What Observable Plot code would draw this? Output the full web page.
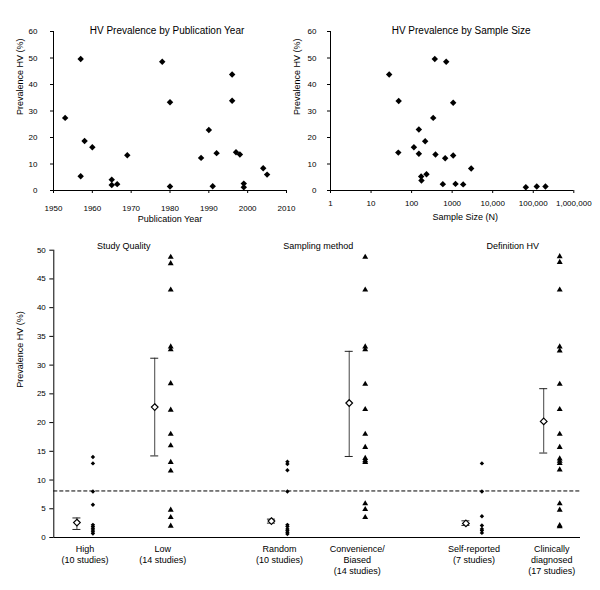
<!DOCTYPE html>
<html>
<head>
<meta charset="utf-8">
<script src="https://cdn.jsdelivr.net/npm/d3@7"></script>
<script src="https://cdn.jsdelivr.net/npm/@observablehq/plot@0.6"></script>
<style>
  body { margin: 0; background: #fff; }
  #wrap { position: relative; width: 600px; height: 590px; overflow: hidden; color: #000;
          font-family: "Liberation Sans", Arial, Helvetica, sans-serif; }
  #wrap > div { position: absolute; }
  #a { left: 0; top: 0; }
  #b { left: 280px; top: 0; }
  #c { left: 0; top: 230px; }
</style>
</head>
<body>
<div id="wrap"><div id="a"></div><div id="b"></div><div id="c"></div></div>
<script>
// ---------- Top left: prevalence by publication year ----------
const titleYear = "HV Prevalence by Publication Year";
const pubYears    = [1953, 1957, 1957, 1958, 1960, 1965, 1965, 1966.4, 1969, 1978, 1980, 1980, 1988, 1990, 1991, 1992, 1996, 1996, 1997, 1998, 1999, 1999, 2004, 2005];
const prevByYear  = [27.4, 49.6, 5.4, 18.7, 16.3, 4.1, 2.1, 2.4, 13.3, 48.6, 33.3, 1.5, 12.3, 22.8, 1.6, 14.1, 43.8, 33.9, 14.4, 13.6, 2.6, 1.2, 8.4, 6.0];
const yearTicks   = [1950, 1960, 1970, 1980, 1990, 2000, 2010];
const prevTicksTop = [0, 10, 20, 30, 40, 50, 60];

// ---------- Top right: prevalence by sample size ----------
const titleSize = "HV Prevalence by Sample Size";
const sampleSizes = [28, 48, 47, 114, 151, 151, 172, 175, 216, 233, 341, 373, 388, 589, 713, 673, 1060, 1060, 1210, 1870, 2946, 65600, 122000, 200000];
const prevBySize  = [43.8, 33.8, 14.3, 16.3, 23.0, 13.9, 5.3, 3.8, 18.6, 6.1, 27.4, 49.6, 13.6, 2.4, 48.6, 12.2, 33.1, 13.2, 2.5, 2.3, 8.3, 1.2, 1.5, 1.5];
const sizeTicks = [1, 10, 100, 1000, 10000, 100000, 1000000];
const sizeTickLabels = ["1", "10", "100", "1000", "10,000", "100,000", "1,000,000"];

// ---------- Bottom: subgroups ----------
const groups = ["Study Quality", "Sampling method", "Definition HV"];
const categories = ["High", "Low", "Random", "Convenience/Biased", "Self-reported", "Clinically diagnosed"];
const categoryLabels = ["High\n(10 studies)", "Low\n(14 studies)", "Random\n(10 studies)",
                        "Convenience/\nBiased\n(14 studies)", "Self-reported\n(7 studies)",
                        "Clinically\ndiagnosed\n(17 studies)"];
const categoryGroup = [0, 0, 1, 1, 2, 2];
const meanValues = [2.6, 22.7, 2.85, 23.4, 2.45, 20.2];
const ciLow      = [1.4, 14.2, 2.5, 14.1, 2.1, 14.7];
const ciHigh     = [3.4, 31.2, 3.2, 32.4, 2.9, 25.9];
const highValues        = [14.0, 12.9, 8.0, 5.7, 2.2, 1.9, 1.6, 1.3, 1.0, 0.7];
const lowValues         = [48.8, 47.7, 43.1, 33.2, 32.7, 26.8, 22.2, 18.0, 16.0, 13.1, 11.6, 4.8, 3.5, 2.0];
const randomValues      = [13.2, 12.8, 11.7, 8.0, 2.2, 1.9, 1.5, 1.2, 0.9, 0.6];
const convenienceValues = [48.8, 43.1, 33.2, 32.7, 26.7, 22.3, 18.0, 15.7, 13.8, 13.4, 13.1, 5.9, 4.9, 3.5];
const selfValues        = [12.9, 8.0, 3.7, 2.1, 1.5, 1.2, 0.8];
const clinicalValues    = [48.9, 47.9, 43.1, 33.2, 32.5, 26.7, 22.3, 18.0, 15.7, 13.7, 13.3, 12.9, 11.8, 5.9, 4.8, 2.1, 1.9];
const overallPrevalence = 8.1;
const prevTicksBottom = [0, 5, 10, 15, 20, 25, 30, 35, 40, 45, 50];
const yLabel = "Prevalence HV (%)";

// ---------- build ----------
const FONT = "'Liberation Sans', Arial, Helvetica, sans-serif";
const baseStyle = {fontFamily: FONT, fontSize: "8px", color: "#000", background: "transparent", overflow: "visible"};
const first = a => a[0], last = a => a[a.length - 1];

const yearRows = pubYears.map((year, i) => ({year, prev: prevByYear[i]}));
const sizeRows = sampleSizes.map((n, i) => ({n, prev: prevBySize[i]}));

const plotA = Plot.plot({
  width: 300, height: 235,
  marginLeft: 53, marginRight: 14, marginTop: 31, marginBottom: 45,
  style: baseStyle,
  x: {domain: [first(yearTicks), last(yearTicks)], ticks: yearTicks, tickFormat: d => String(d), tickSize: 3, tickPadding: 12, label: null},
  y: {domain: [first(prevTicksTop), last(prevTicksTop)], ticks: prevTicksTop, tickSize: 3, tickPadding: 13, label: null},
  marks: [
    Plot.ruleY([first(prevTicksTop)], {stroke: "#000"}),
    Plot.ruleX([first(yearTicks)], {stroke: "#000"}),
    Plot.dot(yearRows, {x: "year", y: "prev", symbol: "diamond2", r: 2.9, fill: "#000"}),
    Plot.text([titleYear], {text: d => d, frameAnchor: "top", dy: -4.5, dx: -3, fontSize: 10}),
    Plot.text(["Publication Year"], {text: d => d, frameAnchor: "bottom", dy: 31.5, fontSize: 9}),
    Plot.text([yLabel], {text: d => d, frameAnchor: "left", rotate: -90, dx: -33, dy: 4, fontSize: 9})
  ]
});
document.getElementById("a").appendChild(plotA);

const sizeLabelMap = new Map(sizeTicks.map((t, i) => [t, sizeTickLabels[i]]));
const plotB = Plot.plot({
  width: 320, height: 235,
  marginLeft: 50, marginRight: 26.7, marginTop: 31, marginBottom: 45,
  style: baseStyle,
  x: {type: "log", domain: [first(sizeTicks), last(sizeTicks)], ticks: sizeTicks, tickFormat: d => sizeLabelMap.get(d), tickSize: 3, tickPadding: 7, label: null},
  y: {domain: [first(prevTicksTop), last(prevTicksTop)], ticks: prevTicksTop, tickSize: 3, tickPadding: 11, label: null},
  marks: [
    Plot.ruleY([first(prevTicksTop)], {stroke: "#000"}),
    Plot.ruleX([first(sizeTicks)], {stroke: "#000"}),
    Plot.dot(sizeRows, {x: "n", y: "prev", symbol: "diamond2", r: 2.9, fill: "#000"}),
    Plot.text([titleSize], {text: d => d, frameAnchor: "top", dy: -4.5, dx: 9, fontSize: 10}),
    Plot.text(["Sample Size (N)"], {text: d => d, frameAnchor: "bottom", dy: 29, dx: 13, fontSize: 9}),
    Plot.text([yLabel], {text: d => d, frameAnchor: "left", rotate: -90, dx: -33, dy: 4, fontSize: 9})
  ]
});
document.getElementById("b").appendChild(plotB);

// category layout position: groups separated by a wider gap
const catPos = categories.map((c, i) => categoryGroup[i] * 2.5 + (i % 2));
const summary = categories.map((c, i) => ({cat: c, label: categoryLabels[i], pos: catPos[i], mean: meanValues[i], lo: ciLow[i], hi: ciHigh[i]}));
const groupRows = groups.map((g, gi) => ({g, pos: d3.mean(catPos.filter((p, i) => categoryGroup[i] === gi))}));
const valueSets = [highValues, lowValues, randomValues, convenienceValues, selfValues, clinicalValues];
const pts = valueSets.flatMap((vals, i) => vals.map(v => ({cat: categories[i], pos: catPos[i], value: v, shape: i % 2})));
const xDomain = [-0.4, 6.37];

const plotC = Plot.plot({
  width: 600, height: 360,
  marginLeft: 53.3, marginRight: 20, marginTop: 19.7, marginBottom: 53,
  style: baseStyle,
  x: {type: "linear", domain: xDomain, axis: null},
  y: {domain: [first(prevTicksBottom), last(prevTicksBottom)], ticks: prevTicksBottom, tickSize: 4, tickPadding: 4, label: null},
  marks: [
    Plot.ruleX([xDomain[0]], {stroke: "#000"}),
    Plot.ruleY([first(prevTicksBottom)], {stroke: "#000"}),
    Plot.ruleY([overallPrevalence], {stroke: "#000", strokeDasharray: "4,2"}),
    Plot.ruleX(summary, {x: "pos", y1: "lo", y2: "hi", dx: -8, stroke: "#444"}),
    Plot.ruleY(summary, {y: "lo", x1: "pos", x2: "pos", dx: -8, insetLeft: -4, insetRight: -4, stroke: "#222"}),
    Plot.ruleY(summary, {y: "hi", x1: "pos", x2: "pos", dx: -8, insetLeft: -4, insetRight: -4, stroke: "#222"}),
    Plot.dot(summary, {x: "pos", y: "mean", dx: -8, symbol: "diamond2", r: 3, fill: "#fff", stroke: "#000", strokeWidth: 1.2}),
    Plot.dot(pts.filter(d => d.shape === 0), {x: "pos", y: "value", dx: 8, symbol: "diamond2", r: 2.0, fill: "#000"}),
    Plot.dot(pts.filter(d => d.shape === 1), {x: "pos", y: "value", dx: 8, symbol: "triangle", r: 2.2, fill: "#000"}),
    Plot.text(summary, {x: "pos", text: "label", frameAnchor: "bottom", lineAnchor: "top", dy: 7, lineHeight: 1.22, fontSize: 9}),
    Plot.text(groupRows, {x: "pos", text: "g", frameAnchor: "top", dy: -8, fontSize: 9}),
    Plot.text([yLabel], {text: d => d, frameAnchor: "left", rotate: -90, dx: -33.3, dy: -6, fontSize: 9})
  ]
});
document.getElementById("c").appendChild(plotC);
</script>
</body>
</html>
